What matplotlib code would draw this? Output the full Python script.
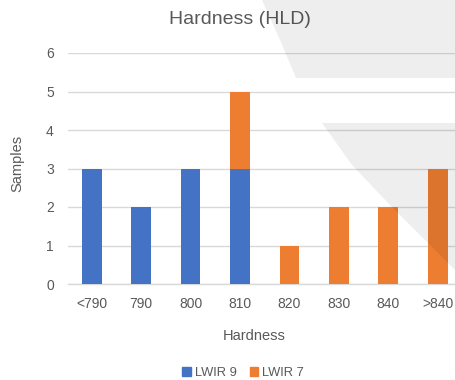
import matplotlib
matplotlib.use("Agg")
import matplotlib.pyplot as plt
from matplotlib.patches import Polygon, Patch
import numpy as np

plt.rcParams["font.family"] = ["Liberation Sans", "DejaVu Sans"]

categories = ["<790", "790", "800", "810", "820", "830", "840", ">840"]
lwir9 = [3, 2, 3, 3, 0, 0, 0, 0]
lwir7 = [0, 0, 0, 2, 1, 2, 2, 3]
series_names = ["LWIR 9", "LWIR 7"]

blue = "#4472C4"
orange = "#ED7D31"
text_gray = "#595959"
grid_gray = "#D9D9D9"

W, H = 456, 380
fig = plt.figure(figsize=(W / 100, H / 100), dpi=100)

# axes placed in pixel terms (from top-left)
left, right, top, bottom = 67.7, 456, 53, 284
ax = fig.add_axes([left / W, 1 - bottom / H, (right - left) / W, (bottom - top) / H])

x = np.arange(len(categories))
ax.bar(x, lwir9, width=0.4, color=blue, zorder=3)
ax.bar(x, lwir7, width=0.4, bottom=lwir9, color=orange, zorder=3)

ax.set_xlim(-0.486, -0.486 + (right - left) / 49.43)
ax.set_ylim(0, 6)
ax.set_yticks(range(7))
ax.set_xticks(x)
ax.set_xticklabels(categories)
ax.yaxis.grid(True, color=grid_gray, linewidth=1.0, zorder=0)
ax.set_axisbelow(True)
for s in ["top", "right", "left"]:
    ax.spines[s].set_visible(False)
ax.spines["bottom"].set_color(grid_gray)
ax.spines["bottom"].set_linewidth(1.0)
ax.tick_params(axis="both", length=0, labelsize=10, colors=text_gray)
ax.tick_params(axis="y", pad=10)
ax.tick_params(axis="x", pad=9)

fig.text(240 / W, 1 - 20 / H, "Hardness (HLD)", ha="center", va="center",
         fontsize=14, color=text_gray)
fig.text(17 / W, 1 - 163 / H, "Samples", ha="center", va="center",
         rotation=90, fontsize=10.5, color=text_gray)
fig.text(254 / W, 1 - 336 / H, "Hardness", ha="center", va="center",
         fontsize=10.5, color=text_gray)

handles = [Patch(color=blue), Patch(color=orange)]
fig.legend(handles, series_names, loc="center", bbox_to_anchor=(243 / W, 1 - 373 / H),
           ncol=2, frameon=False, fontsize=9.3, labelcolor=text_gray,
           handlelength=0.65, handleheight=0.65, handletextpad=0.3, columnspacing=1.0)

# soft gray shading across the right side
def to_fig(pts):
    return [(px / W, 1 - py / H) for px, py in pts]

upper = [(262, 0), (460, 0), (460, 78), (296, 78), (280, 40)]
lower = [(322, 123), (460, 123), (460, 275), (448, 263), (390, 205), (352, 165)]
for poly in (upper, lower):
    fig.add_artist(Polygon(to_fig(poly), closed=True, transform=fig.transFigure,
                           facecolor="black", alpha=0.065, edgecolor="none", zorder=10))

fig.savefig("out.png", dpi=100)
